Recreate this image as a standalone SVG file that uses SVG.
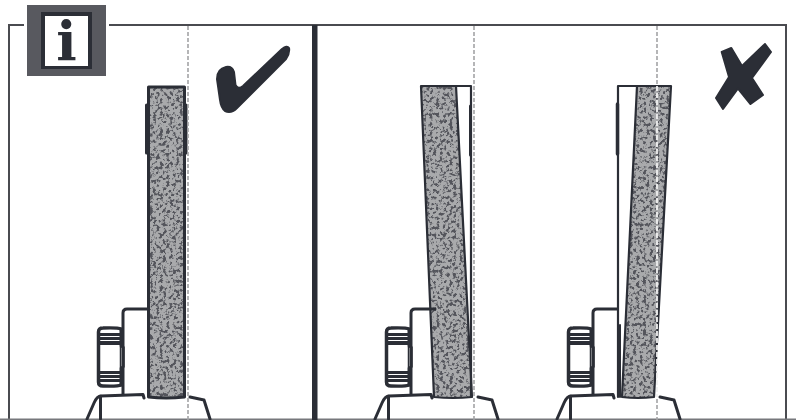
<svg xmlns="http://www.w3.org/2000/svg" xmlns:xlink="http://www.w3.org/1999/xlink" width="796" height="420" viewBox="0 0 796 420">
<style>
.ln{fill:none;stroke:#2b2e36;stroke-width:3;stroke-linejoin:round;stroke-linecap:round}
.dk{fill:#2b2e36}
.ic{fill:#2b2e36;stroke:#2b2e36;stroke-width:2;stroke-linejoin:round}
.fr{fill:none;stroke:#4a4b50;stroke-width:2}
.ds{fill:none;stroke:#a3a4a6;stroke-width:1.6;stroke-dasharray:4 2}
.dw{fill:none;stroke:#f0f0f0;stroke-width:1.8;stroke-dasharray:5 2}
.wh{fill:#a9aaac;filter:url(#sp)}
</style>
<defs>
<filter id="sp" x="0" y="0" width="100%" height="100%" color-interpolation-filters="sRGB">
<feTurbulence type="fractalNoise" baseFrequency="0.3" numOctaves="3" seed="4" result="n"/>
<feColorMatrix in="n" type="matrix" values="0 0 0 0 0.33  0 0 0 0 0.335  0 0 0 0 0.36  7 0 0 0 -3.500" result="b"/>
<feComposite in="b" in2="SourceAlpha" operator="in" result="c"/>
<feMerge><feMergeNode in="SourceGraphic"/><feMergeNode in="c"/></feMerge>
</filter>
<g id="mount">
<path class="ln" d="M147 309H127Q123 309 123 313V394"/>
<path class="ln" d="M87 419L94 403Q97 396 101 396L143 394.500L144 398"/>
<path class="ln" d="M100.500 396V419"/>
<path class="ln" d="M190 397L204 400L210 419"/>
<path class="ln" style="stroke-width:3.500" d="M121 329Q118 327.500 103 328Q98.500 328 98.500 332V382Q98.500 386 103 386Q118 386.500 121 385"/>
<rect class="dk" x="99" y="333" width="23" height="3"/>
<rect class="dk" x="99" y="337" width="23" height="3"/>
<rect class="dk" x="99" y="341" width="23" height="4"/>
<rect class="dk" x="99" y="371" width="23" height="3"/>
<rect class="dk" x="99" y="375" width="23" height="3"/>
<rect class="dk" x="99" y="379" width="23" height="3"/>
<path class="ln" d="M121 329V346M121 368V385"/>
<path class="ln" style="stroke-width:1.500" d="M120.500 347H124V367H120.500Z"/>
</g>
</defs>
<rect width="796" height="420" fill="#fff"/>
<g id="frame">
<path class="fr" d="M24 25H9V420M109 25H786V420"/>
<path d="M0 419.300H796" stroke="#77787c" stroke-width="1.500"/>
<rect class="dk" x="312" y="25" width="5.500" height="395"/>
</g>
<g id="panel-correct">
<path class="wh" d="M148 87H185V398H148Z"/>
<path class="ln" d="M148.500 87H184.500V397Q166 399 148.500 397Z"/>
<path class="ln" d="M146.500 105V153M186 105V153"/>
<use xlink:href="#mount" href="#mount"/>
<path class="ds" d="M188 26V420"/>
</g>
<g id="panel-wrong-left">
<path class="wh" d="M421 86H456L472 397Q453 399 434 397Z"/>
<path class="ln" style="stroke-width:2.200" d="M421 86H456L472 397Q453 399 434 397Z"/>
<path class="ln" style="stroke-width:2.200" d="M456 86H471V397"/>
<path class="ln" d="M470.500 106V155"/>
<use xlink:href="#mount" href="#mount" x="288"/>
<path class="ds" d="M474 26V420"/>
</g>
<g id="panel-wrong-right">
<path class="wh" d="M637 86H671L654 397Q638 399 622 397Z"/>
<path class="ln" style="stroke-width:2.200" d="M637 86H671L654 397Q638 399 622 397Z"/>
<path class="ln" style="stroke-width:2.200" d="M637 86H618V397"/>
<path class="ln" style="stroke-width:3.500" d="M617.500 104V154"/>
<path class="ln" style="stroke-width:2" d="M620 325V397"/>
<use xlink:href="#mount" href="#mount" x="470"/>
<path class="ds" d="M657 26V84M657 399V420"/>
<path class="dw" d="M657 86V397"/>
</g>
<g id="icon-info">
<rect x="27" y="5" width="79" height="71" fill="#58595f"/>
<rect x="41" y="12" width="51" height="57" fill="#2b2e36"/>
<rect x="45" y="16" width="43" height="50" fill="#fff"/>
<text x="66.500" y="60" text-anchor="middle" font-family="'DejaVu Serif',serif" font-weight="700" font-size="54" fill="#2b2e36">i</text>
</g>
<g id="icon-check">
<path class="ic" d="M217 79Q217 69 226 67Q232 66 234 72L235.500 85Q238 90 243 86L282 49Q287 45 289 48Q290 53 286 59L237 108Q231 114 225 111Q221 108 220 100Z"/>
</g>
<g id="icon-cross">
<path class="ic" d="M721.700 52L731.300 48L742 66L765 44L771 52L752 78L763 95L750.500 104L738 88.500L723 109L716 98L729 77Z"/>
</g>
</svg>
